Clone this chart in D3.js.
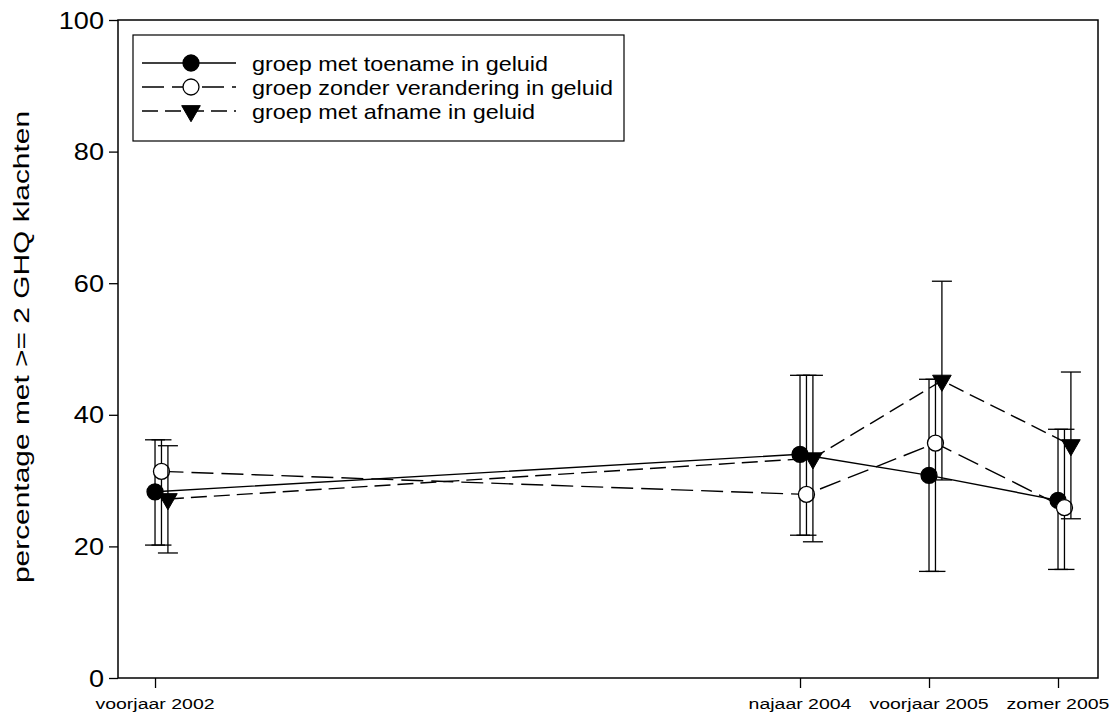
<!DOCTYPE html>
<html>
<head>
<meta charset="utf-8">
<script src="https://cdn.jsdelivr.net/npm/d3@7/dist/d3.min.js"></script>
<style>
  html, body { margin: 0; padding: 0; background: #fff; }
  svg { display: block; }
  text { font-family: "Liberation Sans", Arial, sans-serif; fill: #000; }
</style>
</head>
<body>
<svg id="chart" width="1113" height="720"></svg>
<script>
// Measurement moments (position on a half-year time axis)
const periods = ["voorjaar 2002", "najaar 2004", "voorjaar 2005", "zomer 2005"];
const periodPos = [0, 5, 6, 7];
const yTicks = [0, 20, 40, 60, 80, 100];

// Group with increase in noise
const toename = [28.3, 34.0, 30.8, 27.0];
const toenameLow = [20.2, 21.7, 16.2, 16.5];
const toenameHigh = [36.2, 46.0, 45.4, 37.8];

// Group without change in noise
const zonder = [31.4, 27.9, 35.7, 25.9];
const zonderLow = [20.2, 21.7, 16.2, 16.5];
const zonderHigh = [36.2, 46.0, 45.4, 37.8];

// Group with decrease in noise
const afname = [27.2, 33.4, 45.2, 35.4];
const afnameLow = [19.0, 20.7, 30.1, 24.2];
const afnameHigh = [35.3, 46.0, 60.3, 46.5];

const seriesNames = [
  "groep met toename in geluid",
  "groep zonder verandering in geluid",
  "groep met afname in geluid"
];

const svg = d3.select("#chart");
const plot = { left: 118, right: 1098, top: 20, bottom: 678 };

const x = d3.scaleLinear().domain([-0.287, 7.31]).range([plot.left, plot.right]);
const y = d3.scaleLinear().domain([0, 100]).range([plot.bottom, plot.top]);

const series = [
  { name: seriesNames[0], v: toename, lo: toenameLow, hi: toenameHigh, shift: 0,
    dash: null, marker: "circle", fill: "#000" },
  { name: seriesNames[1], v: zonder, lo: zonderLow, hi: zonderHigh, shift: 0.05,
    dash: "22,8", marker: "circle", fill: "#fff" },
  { name: seriesNames[2], v: afname, lo: afnameLow, hi: afnameHigh, shift: 0.1,
    dash: "16,7", marker: "triangle", fill: "#000" }
];

const circleSym = d3.symbol().type(d3.symbolCircle).size(Math.PI * 8 * 8);
const triSym = d3.symbol().type(d3.symbolTriangle).size(150);

function drawMarker(g, s, cx, cy) {
  if (s.marker === "circle") {
    g.append("path").attr("d", circleSym())
      .attr("transform", `translate(${cx},${cy})`)
      .attr("fill", s.fill).attr("stroke", "#000").attr("stroke-width", 1.3);
  } else {
    g.append("path").attr("d", triSym())
      .attr("transform", `translate(${cx},${cy}) rotate(180)`)
      .attr("fill", s.fill).attr("stroke", "#000").attr("stroke-width", 1);
  }
}

// Horizontally widened text, as in the original output
function wideText(g, tx, ty, str, size, stretch, anchor, rot) {
  const t = g.append("g").attr("transform", `translate(${tx},${ty})` + (rot ? ` rotate(${rot})` : ""));
  t.append("text").attr("transform", `scale(${stretch},1)`)
    .attr("text-anchor", anchor).attr("font-size", size).text(str);
}

// Y axis
const yAxis = d3.axisLeft(y).tickValues(yTicks).tickSize(9).tickFormat(d3.format("d"));
const yg = svg.append("g").attr("transform", `translate(${plot.left},0)`).call(yAxis);
yg.select(".domain").remove();
yg.selectAll(".tick line").attr("stroke", "#000").attr("stroke-width", 1.3);
yg.selectAll(".tick text").remove();
yTicks.forEach(v => wideText(svg, 104, y(v) + 8.5, String(v), 24, 1.13, "end"));

// X axis
const xAxis = d3.axisBottom(x).tickValues(periodPos).tickSize(10).tickFormat("");
const xg = svg.append("g").attr("transform", `translate(0,${plot.bottom})`).call(xAxis);
xg.select(".domain").remove();
xg.selectAll(".tick line").attr("stroke", "#000").attr("stroke-width", 1.3);
periods.forEach((p, i) => wideText(svg, x(periodPos[i]), 709, p, 15, 1.3, "middle"));

// Frame
svg.append("rect")
  .attr("x", plot.left).attr("y", plot.top)
  .attr("width", plot.right - plot.left).attr("height", plot.bottom - plot.top)
  .attr("fill", "none").attr("stroke", "#000").attr("stroke-width", 1.5);

// Y title
wideText(svg, 29, 347, "percentage met >= 2 GHQ klachten", 22, 1.36, "middle", -90);

// Series: error bars, connecting line, markers
const capHalf = 10;
series.forEach(s => {
  const g = svg.append("g");
  const px = i => x(periodPos[i] + s.shift);
  s.v.forEach((v, i) => {
    const cx = px(i);
    g.append("line").attr("x1", cx).attr("x2", cx).attr("y1", y(s.lo[i])).attr("y2", y(s.hi[i]))
      .attr("stroke", "#000").attr("stroke-width", 1.3);
    [s.lo[i], s.hi[i]].forEach(e => {
      g.append("line").attr("x1", cx - capHalf).attr("x2", cx + capHalf)
        .attr("y1", y(e)).attr("y2", y(e)).attr("stroke", "#000").attr("stroke-width", 1.3);
    });
  });
  const line = d3.line().x((d, i) => px(i)).y(d => y(d));
  g.append("path").datum(s.v).attr("d", line).attr("fill", "none")
    .attr("stroke", "#000").attr("stroke-width", 1.4)
    .attr("stroke-dasharray", s.dash);
  s.v.forEach((v, i) => drawMarker(g, s, px(i), y(v)));
});

// Legend
const leg = svg.append("g");
leg.append("rect").attr("x", 133).attr("y", 35).attr("width", 491).attr("height", 106)
  .attr("fill", "#fff").attr("stroke", "#000").attr("stroke-width", 1.2);
const rowY = [63, 87, 111];
series.forEach((s, i) => {
  const ly = rowY[i];
  leg.append("line").attr("x1", 142).attr("x2", 236).attr("y1", ly).attr("y2", ly)
    .attr("stroke", "#000").attr("stroke-width", 1.4).attr("stroke-dasharray", s.dash);
  drawMarker(leg, s, 191, ly);
  wideText(leg, 252, ly + 7.5, s.name, 20.5, 1.14, "start");
});
</script>
</body>
</html>
